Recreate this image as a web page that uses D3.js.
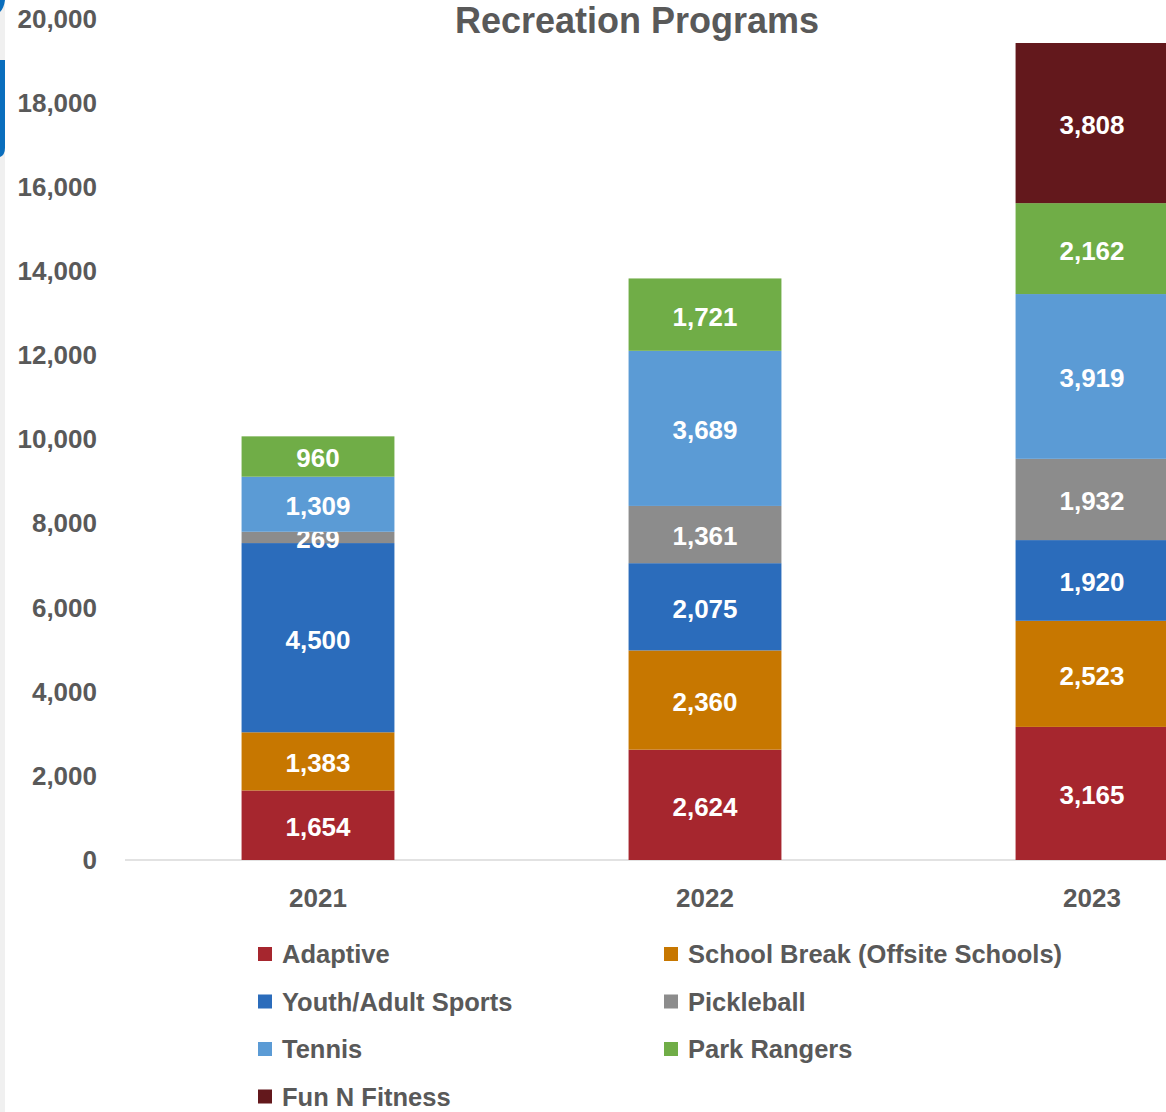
<!DOCTYPE html>
<html>
<head>
<meta charset="utf-8">
<script src="https://cdn.jsdelivr.net/npm/d3@7"></script>
<style>
  body { margin: 0; background: #fff; }
  svg { display: block; font-family: "Liberation Sans", Arial, sans-serif; }
</style>
</head>
<body>
<svg id="chart" width="1166" height="1112"></svg>
<script>
// chart data
var years = ['2021', '2022', '2023'];
var programs = ['Adaptive', 'School Break (Offsite Schools)', 'Youth/Adult Sports',
                'Pickleball', 'Tennis', 'Park Rangers', 'Fun N Fitness'];
var adaptive    = [1654, 2624, 3165];
var schoolBreak = [1383, 2360, 2523];
var youthAdult  = [4500, 2075, 1920];
var pickleball  = [269, 1361, 1932];
var tennis      = [1309, 3689, 3919];
var parkRangers = [960, 1721, 2162];
var funFitness  = [0, 0, 3808];
var yTicks = [0, 2000, 4000, 6000, 8000, 10000, 12000, 14000, 16000, 18000, 20000];

var colors = ['#a6262e', '#c77700', '#2b6cbb', '#8c8c8c', '#5b9bd5', '#70ad47', '#63181c'];
var seriesVals = [adaptive, schoolBreak, youthAdult, pickleball, tennis, parkRangers, funFitness];

// rows for d3.stack
var rows = years.map(function(y, i) {
  var r = { year: y };
  programs.forEach(function(p, k) { r[p] = seriesVals[k][i]; });
  return r;
});

var svg = d3.select('#chart');
var textCol = '#595959';

// thin strip on the left edge of the screenshot
svg.append('rect').attr('x', 0).attr('y', 0).attr('width', 5).attr('height', 1112).attr('fill', '#f0f0f0');
svg.append('path').attr('d', 'M0,60 H5 V148 Q5,155 0,157 Z').attr('fill', '#0a6ebd');
svg.append('path').attr('d', 'M0,0 H5 Q4,8 0,12 Z').attr('fill', '#0a6ebd');

var x = d3.scaleBand().domain(years).range([124.5, 1285.5]).paddingInner(0.605).paddingOuter(0.3025);
var y = d3.scaleLinear().domain([0, 20000]).range([860, 19]);
var color = d3.scaleOrdinal().domain(programs).range(colors);

var stacked = d3.stack().keys(programs)(rows);

// baseline
svg.append('line')
   .attr('x1', 125).attr('x2', 1166)
   .attr('y1', y(0)).attr('y2', y(0))
   .attr('stroke', '#d9d9d9').attr('stroke-width', 1.5);

// y axis labels
var yAxis = svg.append('g')
   .attr('transform', 'translate(125,0)')
   .call(d3.axisLeft(y).tickValues(yTicks).tickSize(0).tickPadding(28).tickFormat(d3.format(',')));
yAxis.select('.domain').remove();
yAxis.selectAll('text')
   .attr('fill', textCol).style('font-size', '26px').style('font-weight', 'bold')
   .style('font-family', '"Liberation Sans", Arial, sans-serif');

// x axis labels
var xAxis = svg.append('g')
   .attr('transform', 'translate(0,' + y(0) + ')')
   .call(d3.axisBottom(x).tickSize(0).tickPadding(29));
xAxis.select('.domain').remove();
xAxis.selectAll('text')
   .attr('fill', textCol).style('font-size', '26px').style('font-weight', 'bold')
   .style('font-family', '"Liberation Sans", Arial, sans-serif');

// bars
var layers = svg.selectAll('g.layer')
   .data(stacked)
   .enter()
   .append('g')
   .attr('class', 'layer')
   .attr('fill', function(d) { return color(d.key); });

layers.selectAll('rect')
   .data(function(d) { return d.filter(function(s) { return s[1] - s[0] > 0; }); })
   .enter()
   .append('rect')
   .attr('x', function(d) { return x(d.data.year); })
   .attr('width', x.bandwidth())
   .attr('y', function(d) { return y(d[1]); })
   .attr('height', function(d) { return y(d[0]) - y(d[1]); });

// value labels
layers.selectAll('text')
   .data(function(d) { return d.filter(function(s) { return s[1] - s[0] > 0; }); })
   .enter()
   .append('text')
   .attr('x', function(d) { return x(d.data.year) + x.bandwidth() / 2; })
   .attr('y', function(d) { return (y(d[0]) + y(d[1])) / 2; })
   .attr('text-anchor', 'middle')
   .attr('dy', '0.42em')
   .attr('fill', '#fff')
   .style('font-size', '26px')
   .style('font-weight', 'bold')
   .text(function(d) { return d3.format(',')(d[1] - d[0]); });

// title
svg.append('text')
   .attr('x', 637).attr('y', 33)
   .attr('text-anchor', 'middle')
   .attr('fill', textCol)
   .style('font-size', '36px').style('font-weight', 'bold')
   .text('Recreation Programs');

// legend, two columns
var legend = svg.selectAll('g.legend')
   .data(programs)
   .enter()
   .append('g')
   .attr('class', 'legend')
   .attr('transform', function(d, i) {
      return 'translate(' + (i % 2 === 0 ? 258 : 664) + ',' + (954 + Math.floor(i / 2) * 47.5) + ')';
   });

legend.append('rect')
   .attr('x', 0).attr('y', -7).attr('width', 14).attr('height', 14)
   .attr('fill', function(d) { return color(d); });

legend.append('text')
   .attr('x', 24).attr('y', 0).attr('dy', '0.36em')
   .attr('fill', textCol)
   .style('font-size', '25.5px').style('font-weight', 'bold')
   .text(function(d) { return d; });
</script>
</body>
</html>
